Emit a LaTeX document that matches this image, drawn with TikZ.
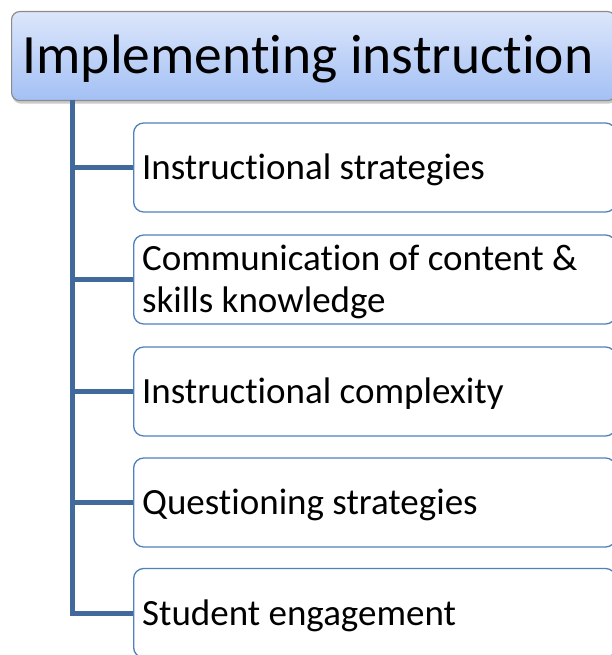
\documentclass[tikz,border=0pt]{standalone}
\usepackage{fontspec}
\setmainfont{Carlito}[Ligatures=NoCommon]
\usetikzlibrary{shadows}
\definecolor{hdrtop}{HTML}{DCE6FB}
\definecolor{hdrbot}{HTML}{A3C0F4}
\definecolor{hdrline}{HTML}{8C8C8C}
\definecolor{conn}{HTML}{41699C}
\definecolor{boxline}{HTML}{4F81BD}
\tikzset{
  header/.style={draw=hdrline, line width=1.2pt, rounded corners=8pt,
    top color=hdrtop, bottom color=hdrbot, minimum width=604pt, minimum height=89pt,
    text width=582pt, inner xsep=11pt, inner ysep=0pt, align=flush left,
    text height=36pt, text depth=2pt,
    font=\fontsize{55.5}{60}\selectfont,
    drop shadow={shadow xshift=1pt, shadow yshift=-3pt, opacity=0.35, fill=black!60}},
  item/.style={draw=boxline, line width=1.3pt, rounded corners=10pt, fill=white,
    minimum width=482pt, minimum height=89pt, anchor=west,
    text width=465pt, inner xsep=8.5pt, inner ysep=0pt, align=flush left,
    text height=24pt, text depth=0pt,
    font=\fontsize{37}{42}\selectfont},
  connector/.style={draw=conn, line width=5pt}
}
\begin{document}
\begin{tikzpicture}[x=1pt,y=-1pt]
\useasboundingbox (0,0) rectangle (612,655);
\node[header, anchor=north west] (hdr) at (11,11) {Implementing instruction};
\coordinate (top) at (72,100);
\node[item] (b1) at (133,167.5) {Instructional strategies};
\node[item, text depth=42pt] (b2) at (133,279.5) {Communication of content \&\\skills knowledge};
\node[item] (b3) at (133,391.5) {Instructional complexity};
\node[item] (b4) at (133,502.5) {Questioning strategies};
\node[item] (b5) at (133,613) {Student engagement};
\draw[connector, line join=miter] (top) |- (b5.west);
\foreach \b in {b1,b2,b3,b4}{
  \draw[connector] (top |- \b.west) -- (\b.west);
}
\end{tikzpicture}
\end{document}
